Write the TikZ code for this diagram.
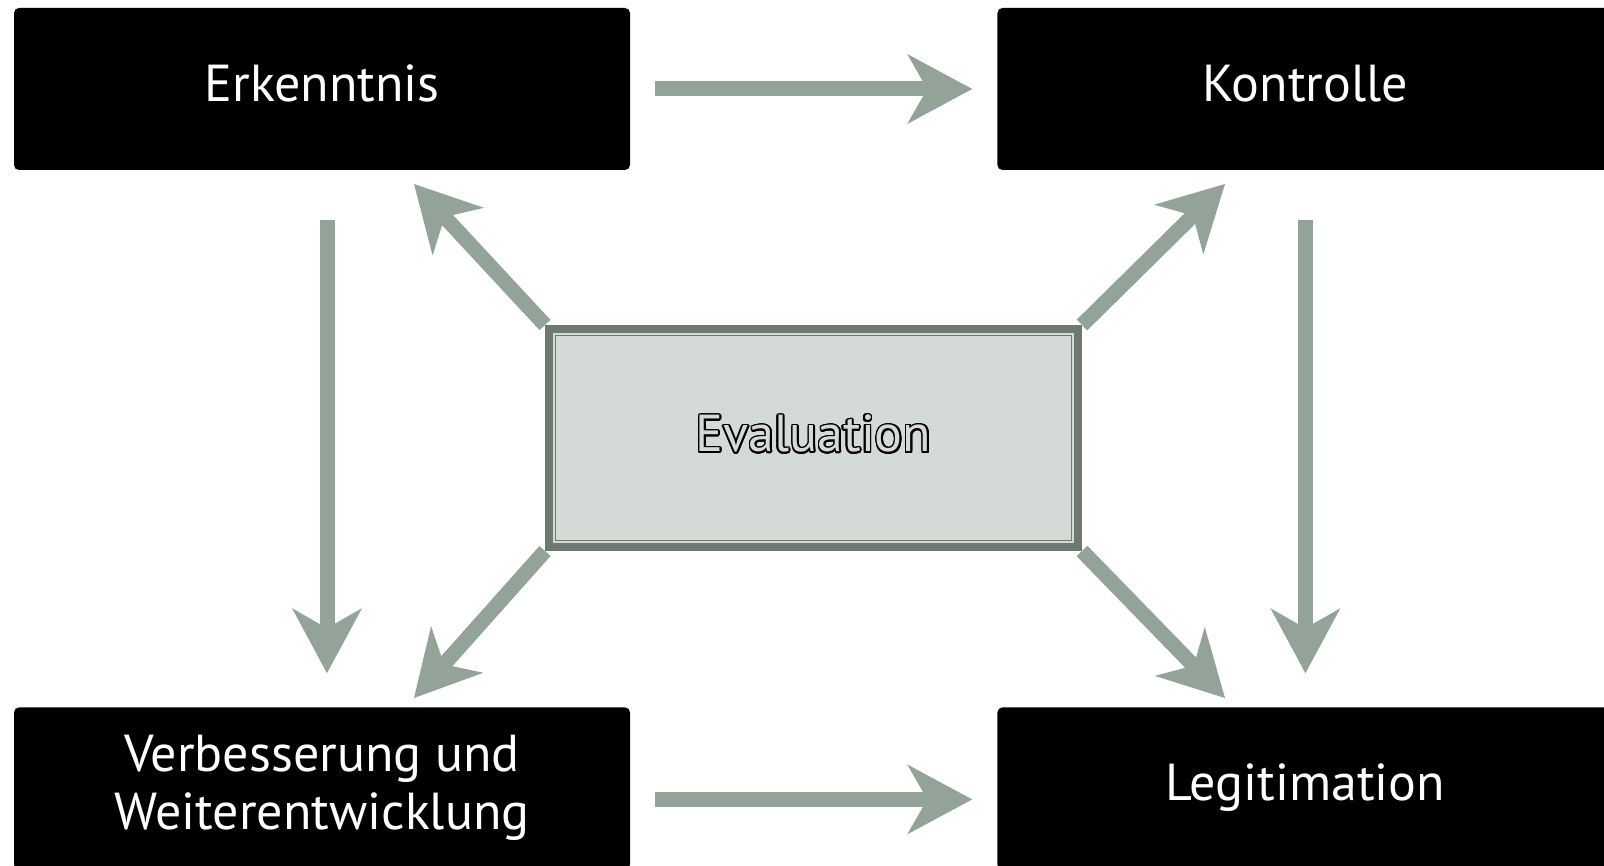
\documentclass[tikz,border=0pt]{standalone}
\usepackage{fontspec}
\setmainfont{PT Sans}
\usepackage{contour}
\contourlength{1.6pt}
\usetikzlibrary{positioning,arrows.meta,backgrounds}
\definecolor{flowgreen}{RGB}{147,163,152}
\definecolor{evaldark}{RGB}{110,122,112}
\definecolor{evalfill}{RGB}{212,218,214}

\begin{document}
\begin{tikzpicture}[x=1pt,y=-1pt,
    box/.style={fill=black, rounded corners=5pt, minimum width=616pt,
        minimum height=162pt, inner sep=0pt, text=white, align=center,
        text depth=12pt, font=\fontsize{52}{58}\selectfont},
    evalbox/.style={draw=evaldark, line width=8pt, fill=evalfill,
        minimum width=529pt, minimum height=218pt, text depth=9pt,
        font=\fontsize{52}{58}\selectfont},
    flow/.style={draw=flowgreen, line width=15pt,
        -{Stealth[length=65pt,width=70pt,inset=20pt,line width=0pt]}}]
    \clip (0,0) rectangle (1604,866);

    \node[box] (erk) at (322,89) {Erkenntnis};
    \node[box, right=367pt of erk] (kon) {Kontrolle};
    \node[box, below=537pt of erk] (verb) {Verbesserung und\\Weiterentwicklung};
    \node[box, right=367pt of verb] (leg) {Legitimation};

    \node[evalbox] (eval) at (813.5,438) {\contour{black}{\textcolor{evalfill}{Evaluation}}};
    \draw[evaldark, line width=1.5pt] ([xshift=10.5pt,yshift=-10.5pt]eval.north west)
        rectangle ([xshift=-10.5pt,yshift=10.5pt]eval.south east);

    \coordinate (erktip) at (414,184);
    \coordinate (kontip) at (1225,184);
    \coordinate (verbtip) at (414,698);
    \coordinate (legtip) at (1225,698);

    \begin{scope}[on background layer]
        \draw[flow, shorten <=25pt, shorten >=25pt] (erk) -- (kon);
        \draw[flow, shorten <=25pt, shorten >=25pt] ([yshift=-11pt]verb.east) -- ([yshift=-11pt]leg.west);
        \draw[flow, shorten <=50pt, shorten >=34pt] ([xshift=5pt]erk.south) -- ([xshift=5pt]verb.north);
        \draw[flow, shorten <=50pt, shorten >=34pt] (kon.south) -- (leg.north);
        \draw[flow] (eval.north west) -- (erktip);
        \draw[flow] (eval.north east) -- (kontip);
        \draw[flow] (eval.south west) -- (verbtip);
        \draw[flow] (eval.south east) -- (legtip);
    \end{scope}
\end{tikzpicture}
\end{document}
